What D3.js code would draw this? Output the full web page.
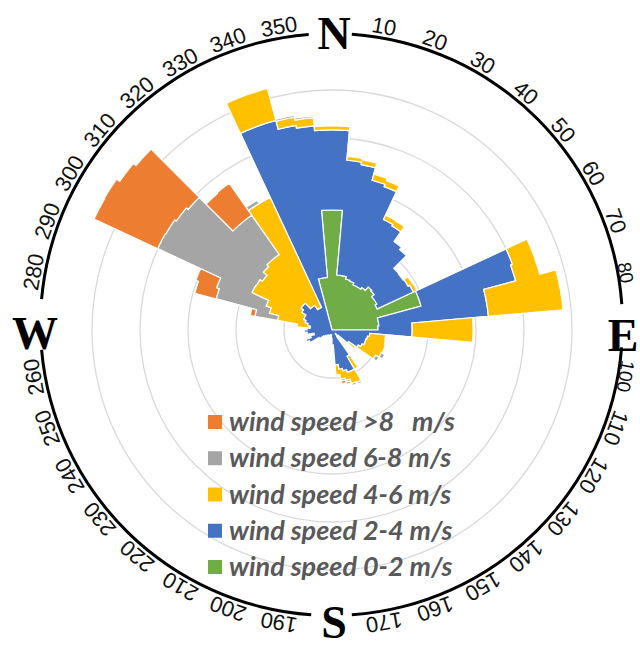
<!DOCTYPE html>
<html><head><meta charset="utf-8">
<script src="https://cdn.jsdelivr.net/npm/d3@7"></script>
<style>html,body{margin:0;padding:0;background:#fff;} svg{display:block;}</style>
</head><body>
<svg id="c" width="640" height="646"></svg>
<script>
// direction bins (start angle of each 5° sector, clockwise from north)
const directions = d3.range(0, 360, 5);

// frequency of each wind-speed class per sector (stacked radially)
const speed0to2 = [
  25.0, 11.5, 11.5, 11.0, 10.8, 10.4, 10.4, 10.8, 11.7, 11.5, 10.8, 10.8,
  10.4, 19.2, 19.2, 9.8, 9.8, 9.6, 0, 0, 0, 0, 0, 0,
  0, 0, 0, 0, 0, 0, 0, 0, 0, 0, 0, 0,
  0, 0, 0, 0, 0, 0, 0, 0, 0, 0, 0, 0,
  0, 0, 0, 0, 0, 0, 0, 0, 0, 0, 0, 0,
  0, 0, 0, 0, 0, 0, 0, 0, 0, 11.0, 11.0, 25.0
];
const speed2to4 = [
  16.7, 24.0, 23.5, 21.3, 21.0, 15.0, 14.6, 11.7, 10.2, 6.7, 7.3, 7.5,
  8.3, 20.8, 20.4, 22.9, 22.9, 7.1, 16.7, 7.9, 7.5, 7.3, 7.3, 6.9,
  6.3, 4.2, 1.7, 1.0, 1.7, 6.3, 9.4, 9.4, 8.8, 8.3, 7.3, 3.1,
  1.7, 1.0, 1.0, 1.0, 1.3, 1.3, 1.7, 1.3, 1.7, 1.7, 2.1, 3.1,
  5.2, 5.8, 4.6, 3.8, 5.2, 5.8, 5.2, 4.6, 5.2, 5.8, 6.3, 6.3,
  7.3, 7.9, 7.9, 6.3, 6.3, 5.2, 5.2, 45.2, 45.2, 32.3, 31.7, 16.7
];
const speed4to6 = [
  0.8, 0.8, 1.0, 1.3, 1.3, 1.0, 1.3, 0, 0, 0, 0, 1.0,
  0.8, 4.8, 5.2, 15.6, 15.6, 12.7, 12.7, 3.3, 3.8, 4.2, 4.2, 4.4,
  4.2, 1.7, 0, 0, 0, 3.1, 2.7, 2.5, 2.1, 2.1, 2.1, 0,
  0, 0, 0, 0, 0, 0, 0, 0, 0, 0, 0, 0,
  0, 0, 0, 0, 0, 0, 0, 2.7, 6.3, 7.7, 8.3, 12.1,
  11.0, 9.8, 10.8, 12.9, 12.9, 25.2, 25.2, 6.9, 6.9, 1.7, 1.7, 0.8
];
const speed6to8 = [
  0, 0, 0, 0, 0, 0, 0, 0, 0, 0, 0, 0,
  0, 0, 0, 0, 0, 0, 0, 0, 0, 0, 0, 0.8,
  0.8, 0, 0, 0, 0, 0, 0.4, 0.4, 0.4, 0.4, 0, 0,
  0, 0, 0, 0, 0, 0, 0, 0, 0, 0, 0, 0,
  0, 0, 0, 0, 0, 0, 0, 0, 4.8, 11.5, 11.0, 21.7,
  21.7, 21.9, 20.4, 10.0, 10.0, 0.8, 0, 0, 0, 0.4, 0.4, 0
];
const speedOver8 = [
  0, 0, 0, 0, 0, 0, 0, 0, 0, 0, 0, 0,
  0, 0, 0, 0, 0, 0, 0, 0, 0, 0, 0, 0,
  0, 0, 0, 0, 0, 0, 0.2, 0, 0.4, 0.6, 0, 0,
  0, 0, 0, 0, 0, 0, 0, 0, 0, 0, 0, 0,
  0, 0, 0, 0, 0, 0, 0, 0, 1.0, 4.6, 4.6, 14.6,
  14.8, 14.4, 14.2, 7.9, 8.1, 0, 0, 0, 0, 0, 0, 0
];

const seriesNames = ["wind speed 0-2 m/s", "wind speed 2-4 m/s", "wind speed 4-6 m/s", "wind speed 6-8 m/s", "wind speed >8   m/s"];
const seriesColors = ["#70AD47", "#4472C4", "#FFC000", "#A5A5A5", "#ED7D31"];
const gridValues = [10, 20, 30, 40, 50];
const compassTicks = d3.range(10, 360, 10).filter(d => d % 90 !== 0);
const cardinals = [["N", 0], ["E", 90], ["S", 180], ["W", 270]];

const series = [speed0to2, speed2to4, speed4to6, speed6to8, speedOver8];

const svg = d3.select("#c");
const cx = 332, cy = 330;          // centre of the rose
const rcx = 331.5, rcy = 324.5, R = 291; // compass ring
const binWidth = 5;
const rScale = d3.scaleLinear().domain([0, 50]).range([0, 240]);
const rad = d => (d - 90) * Math.PI / 180;

const g = svg.append("g").attr("transform", `translate(${cx},${cy})`);
g.selectAll("circle.grid").data(gridValues).join("circle")
  .attr("class", "grid").attr("r", d => rScale(d))
  .attr("fill", "none").attr("stroke", "#d9d9d9").attr("stroke-width", 1.3);

let cum = directions.map(() => 0);
const n = directions.length;
const paths = [];
series.forEach((vals, k) => {
  const inner = cum.slice();
  const outer = cum.map((c, i) => c + vals[i]);
  cum = outer;
  const present = vals.map(v => v > 0);
  const p = d3.path();
  if (present.every(x => x)) {
    p.moveTo(rScale(outer[0]) * Math.cos(rad(0)), rScale(outer[0]) * Math.sin(rad(0)));
    directions.forEach((d, i) => p.arc(0, 0, rScale(outer[i]), rad(d), rad(d + binWidth)));
    p.closePath();
    const ri = rScale(inner[n - 1]);
    p.moveTo(ri * Math.cos(rad(360)), ri * Math.sin(rad(360)));
    for (let i = n - 1; i >= 0; i--) {
      const d = directions[i];
      p.arc(0, 0, rScale(inner[i]), rad(d + binWidth), rad(d), true);
    }
    p.closePath();
  } else {
    const visited = new Array(n).fill(false);
    for (let s = 0; s < n; s++) {
      if (!present[s] || present[(s - 1 + n) % n] || visited[s]) continue;
      const run = [];
      let k2 = 0;
      while (present[(s + k2) % n] && k2 < n) { run.push((s + k2) % n); visited[(s + k2) % n] = true; k2++; }
      const d0 = directions[s];
      const ri0 = rScale(inner[s]);
      p.moveTo(ri0 * Math.cos(rad(d0)), ri0 * Math.sin(rad(d0)));
      run.forEach((idx, j) => {
        const d = d0 + j * binWidth;
        p.arc(0, 0, rScale(outer[idx]), rad(d), rad(d + binWidth));
      });
      for (let j = run.length - 1; j >= 0; j--) {
        const idx = run[j];
        const d = d0 + j * binWidth;
        p.arc(0, 0, rScale(inner[idx]), rad(d + binWidth), rad(d), true);
      }
      p.closePath();
    }
  }
  paths.push({ d: p.toString(), color: seriesColors[k] });
});

g.selectAll("path.layer").data(paths).join("path")
  .attr("class", "layer").attr("d", d => d.d)
  .attr("fill", d => d.color).attr("stroke", "#fff").attr("stroke-width", 1.2)
  .attr("stroke-linejoin", "miter");

// compass ring
const ring = svg.append("g").attr("transform", `translate(${rcx},${rcy})`);
const gaps = [[-4.5, 4], [86, 94.5], [176, 184], [265, 275]];
const ringArc = d3.arc().innerRadius(R - 1.5).outerRadius(R + 1.5);
const segs = gaps.map((gp, i) => [gp[1], i < 3 ? gaps[i + 1][0] : 360 + gaps[0][0]]);
ring.selectAll("path.ring").data(segs).join("path")
  .attr("class", "ring")
  .attr("d", s => ringArc({ startAngle: s[0] * Math.PI / 180, endAngle: s[1] * Math.PI / 180 }))
  .attr("fill", "#000");

ring.selectAll("text.tick").data(compassTicks).join("text")
  .attr("class", "tick")
  .attr("transform", d => {
    const a = d * Math.PI / 180;
    const rr = (d === 80 || d === 100) ? R + 1 : R + 4;
    return `translate(${rr * Math.sin(a)},${-rr * Math.cos(a)}) rotate(${d})`;
  })
  .attr("text-anchor", "middle")
  .attr("font-family", "Liberation Sans, Arial, sans-serif")
  .attr("font-size", d => (d === 80 || d === 100) ? 19 : 22).attr("fill", "#111")
  .text(d => d);

const cardPos = { N: [334, 33], E: [623, 335], S: [334, 622], W: [35, 333] };
svg.selectAll("text.card").data(cardinals).join("text")
  .attr("class", "card")
  .attr("x", d => cardPos[d[0]][0]).attr("y", d => cardPos[d[0]][1])
  .attr("text-anchor", "middle").attr("dominant-baseline", "central")
  .attr("font-family", "Liberation Serif, Times New Roman, serif")
  .attr("font-weight", "bold").attr("font-size", 46).attr("fill", "#000")
  .text(d => d[0]);

// legend
const legendOrder = [4, 3, 2, 1, 0];
const leg = svg.append("g");
const legY = d3.scalePoint().domain(legendOrder).range([422, 567]);
leg.selectAll("rect").data(legendOrder).join("rect")
  .attr("x", 208).attr("y", k => legY(k) - 7).attr("width", 14).attr("height", 14)
  .attr("fill", k => seriesColors[k]);
leg.selectAll("text").data(legendOrder).join("text")
  .attr("x", 229).attr("y", k => legY(k) + 9)
  .attr("font-family", "Lato, sans-serif").attr("font-style", "italic").attr("font-weight", "bold")
  .attr("font-size", 27).attr("fill", "#595959")
  .style("white-space", "pre")
  .text(k => seriesNames[k]);
</script>
</body></html>
